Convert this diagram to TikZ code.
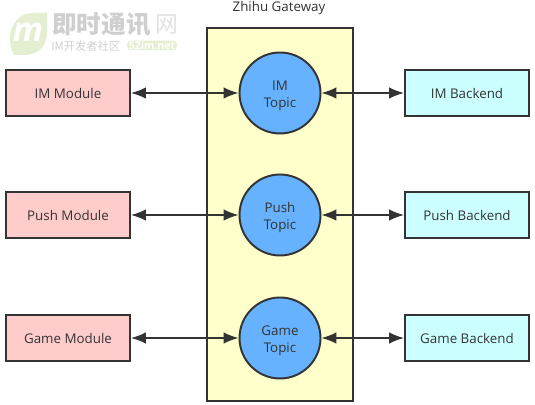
\documentclass[tikz,border=0pt]{standalone}
\usepackage{fontspec}
\setmainfont{Open Sans}
\newfontfamily\cjk{Noto Sans CJK SC}
\usepackage{xcolor}
\usetikzlibrary{arrows.meta}
\definecolor{inkgray}{HTML}{333333}
\definecolor{modulered}{HTML}{FFCCCC}
\definecolor{backendcyan}{HTML}{CCFFFF}
\definecolor{gatewayyellow}{HTML}{FFFFCC}
\definecolor{topicblue}{HTML}{66B2FF}
\definecolor{markgreen}{HTML}{E4EFD2}
\definecolor{markgray}{HTML}{CFCFCF}
\tikzset{
  label text/.style={font=\fontsize{7.6pt}{9.2pt}\selectfont,text=inkgray},
  modulebox/.style={draw=inkgray,line width=1.1pt,fill=modulered,minimum width=2.48cm,minimum height=0.92cm,label text},
  backendbox/.style={modulebox,fill=backendcyan},
  topiccircle/.style={draw=inkgray,line width=1.1pt,fill=topicblue,circle,minimum size=1.62cm,inner sep=0pt,align=center,text height=0.63cm,label text},
  link/.style={{Latex[length=0.3cm,width=0.23cm]}-{Latex[length=0.3cm,width=0.23cm]},draw=inkgray,line width=0.85pt},
}
\begin{document}
\begin{tikzpicture}[x=0.02cm,y=-0.02cm]
  \useasboundingbox (0,0) rectangle (535,405);
  % site mark
  \fill[markgreen] (47,13) -- (47,33) .. controls (47,46) and (38,55) .. (25,55)
    -- (14,55) .. controls (11,50) and (10,44) .. (10,38) .. controls (10,24) and (20,13) .. (32,13) -- cycle;
  \node[text=white,font=\fontsize{19pt}{19pt}\selectfont\bfseries\itshape] (markm) at (28,32) {m};
  \node[anchor=west,inner sep=0pt,text=markgray,font=\cjk\bfseries\fontsize{14pt}{15pt}\selectfont] (marktitle) at (52,24) {即时通讯};
  \node[anchor=west,inner sep=0pt,text=markgray!60,font=\cjk\fontsize{13pt}{14pt}\selectfont] (marknet) at (155,24) {网};
  \node[anchor=west,inner sep=0pt,text=markgray,font=\cjk\fontsize{6.4pt}{7pt}\selectfont] (marksub) at (51,46) {IM开发者社区};
  \node[fill=markgreen,rounded corners=0.08cm,inner sep=0pt,minimum width=1cm,minimum height=0.19cm,text=white,font=\fontsize{6pt}{6pt}\selectfont\bfseries] (marksite) at (152,45.5) {52im.net};
  % gateway
  \node[draw=inkgray,line width=1.1pt,fill=gatewayyellow,minimum width=2.92cm,minimum height=7.46cm] (gateway) at (280,214.5) {};
  \node[label text] (gatewaytitle) at (279,8) {Zhihu Gateway};
  % left column
  \node[modulebox] (immodule) at (68,93) {IM Module};
  \node[modulebox] (pushmodule) at (68,215) {Push Module};
  \node[modulebox] (gamemodule) at (68,338) {Game Module};
  % topics
  \node[topiccircle] (imtopic) at (280,93) {IM\\Topic};
  \node[topiccircle] (pushtopic) at (280,215) {Push\\Topic};
  \node[topiccircle] (gametopic) at (280,338) {Game\\Topic};
  % right column
  \node[backendbox] (imbackend) at (467,93) {IM Backend};
  \node[backendbox] (pushbackend) at (467,215) {Push Backend};
  \node[backendbox] (gamebackend) at (467,338) {Game Backend};
  % connectors
  \draw[link] (immodule) -- (imtopic);
  \draw[link] (imtopic) -- (imbackend);
  \draw[link] (pushmodule) -- (pushtopic);
  \draw[link] (pushtopic) -- (pushbackend);
  \draw[link] (gamemodule) -- (gametopic);
  \draw[link] (gametopic) -- (gamebackend);
\end{tikzpicture}
\end{document}
